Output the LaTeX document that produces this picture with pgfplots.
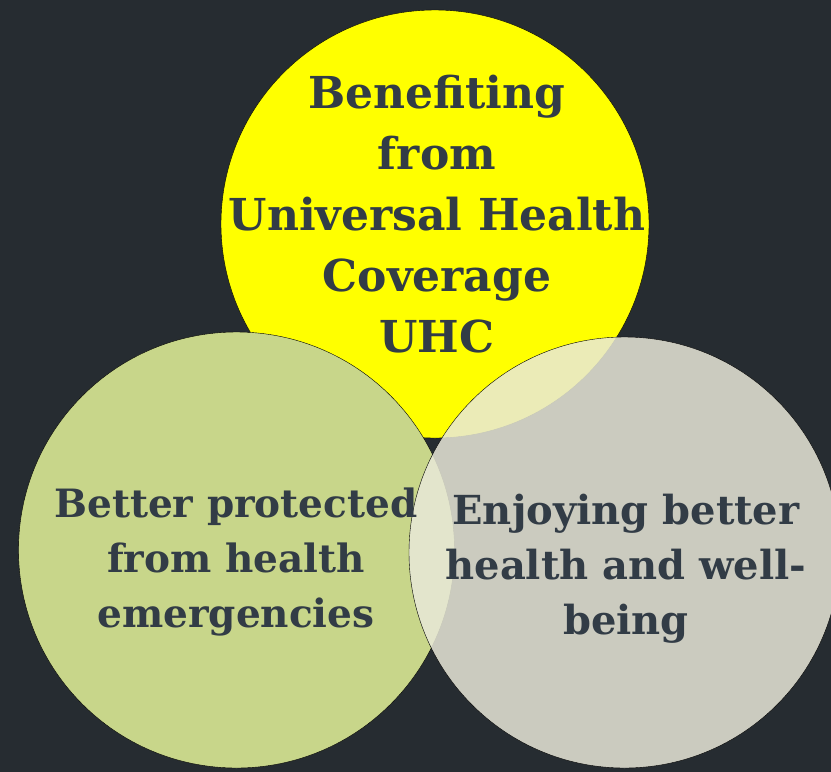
\documentclass[border=0pt]{standalone}
\usepackage{fontspec}
\setmainfont{DejaVu Serif}
\usepackage{pgfplots}
\pgfplotsset{compat=1.18}

\definecolor{bgdark}{HTML}{262C31}
\definecolor{uhcyellow}{HTML}{FFFF00}
\definecolor{protgreen}{HTML}{C8D68A}
\definecolor{wellgray}{RGB}{232,232,216}
\definecolor{txt}{HTML}{323C46}

\begin{document}
\begin{tikzpicture}
\begin{axis}[
  scale only axis,
  width=831pt, height=772pt,
  xmin=0, xmax=831, ymin=0, ymax=772,
  y dir=reverse,
  axis lines=none,
  xtick=\empty, ytick=\empty,
  axis background/.style={fill=bgdark},
  clip marker paths=true,
]
  % circles: centre (px) with radius as mark size (1pt = 1px)
  \addplot[only marks, mark=*, mark size=214pt,
           mark options={fill=uhcyellow, draw=none}]
    coordinates {(435,224)};
  \addplot[only marks, mark=*, mark size=218pt,
           mark options={fill=protgreen, draw=none}]
    coordinates {(236.5,550)};
  \addplot[only marks, mark=*, mark size=215.5pt,
           mark options={fill=wellgray, draw=none, fill opacity=0.85}]
    coordinates {(624.5,552.5)};

  \node[text=txt, font=\fontsize{44}{61}\selectfont\bfseries, align=center,
        anchor=north] at (axis cs:437,72)
    {Benefiting\\from\\Universal Health\\Coverage\\UHC};
  \node[text=txt, font=\fontsize{39}{55}\selectfont\bfseries, align=center,
        anchor=north] at (axis cs:236,484)
    {Better protected\\from health\\emergencies};
  \node[text=txt, font=\fontsize{40}{55}\selectfont\bfseries, align=center,
        anchor=north] at (axis cs:626,491)
    {Enjoying better\\health and well-\\being};
\end{axis}
\pgfresetboundingbox
\path (current axis.south west) rectangle (current axis.north east);
\end{tikzpicture}
\end{document}
